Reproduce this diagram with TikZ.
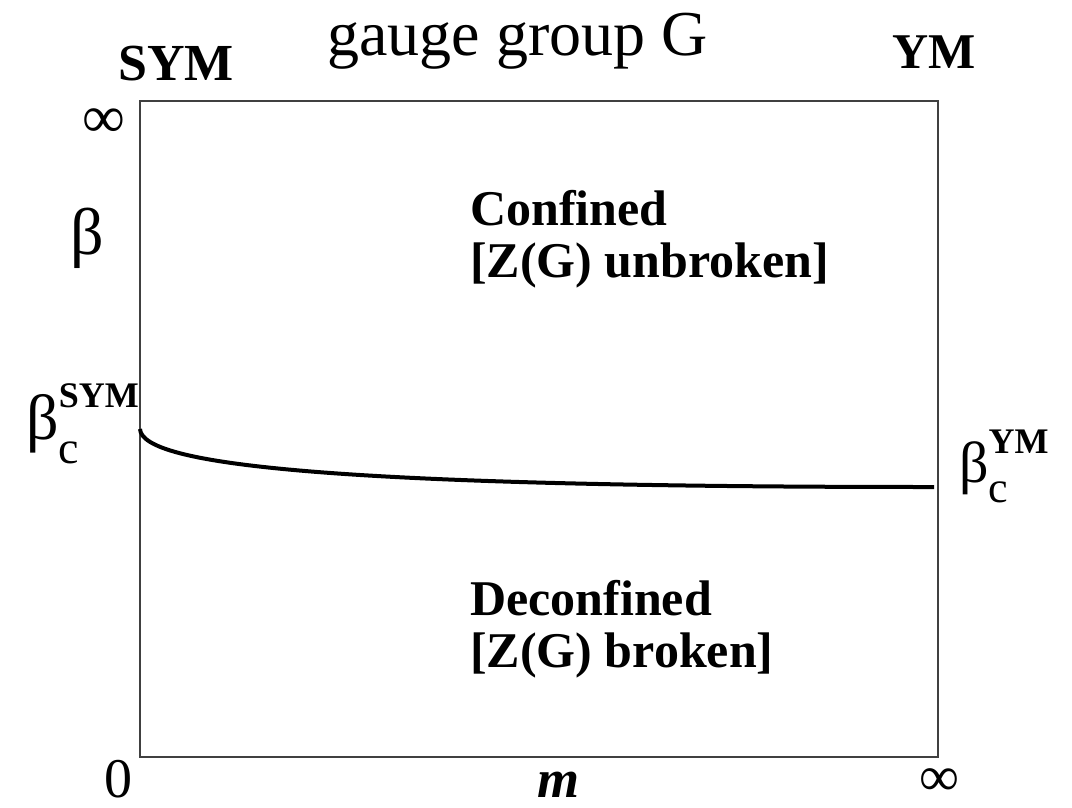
\documentclass[tikz,border=0pt]{standalone}
\usepackage{fontspec}
\setmainfont{Liberation Serif}
\begin{document}
\begin{tikzpicture}[x=1pt,y=-1pt,
  lbl/.style={inner sep=0pt, anchor=base west},
  bl/.style={lbl, font=\fontsize{50}{50}\selectfont\bfseries},
  rg/.style={lbl, font=\fontsize{#1}{#1}\selectfont},
  flat/.style={text depth=0pt},
]
\useasboundingbox (0,0) rectangle (1072,807);
\coordinate (tl) at (140,101);
\coordinate (br) at (938,757);
\draw[line width=2pt, draw=black!75] (tl) rectangle (br);
\coordinate (cs) at (140,429);
\coordinate (ce) at (934,487);
\draw[line width=4pt] (cs) .. controls (142,465) and (330,487) .. (ce);

\node[bl, font=\fontsize{52}{52}\selectfont\bfseries] (sym) at (118,80) {SYM};
\node[rg=64] (title) at (327,55) {gauge group G};
\node[bl] (ym) at (892,68) {YM};
\node[rg=60] (inftop) at (82,137) {∞};
\node[rg=66] (beta) at (70,254) {β};
\node[lbl] (bcs) at (26,439) {\fontsize{64}{64}\selectfont β\rlap{\raisebox{32pt}{\fontsize{36}{36}\selectfont\bfseries SYM}}\raisebox{-24pt}{\fontsize{46}{46}\selectfont c}};
\node[lbl] (bcy) at (959,482) {\fontsize{58}{58}\selectfont β\rlap{\raisebox{29pt}{\fontsize{36}{36}\selectfont\bfseries YM}}\raisebox{-20pt}{\fontsize{44}{44}\selectfont c}};
\node[bl] (conf) at (470,225) {Confined};
\node[bl] (unb) at (470,277) {[Z(G) unbroken]};
\node[bl] (dec) at (470,615) {Deconfined};
\node[bl] (brk) at (470,667) {[Z(G) broken]};
\node[rg=56, flat] (zero) at (104,797) {0};
\node[lbl, flat, font=\fontsize{54}{54}\selectfont\bfseries\itshape] (m) at (537,797) {m};
\node[rg=56, flat] (infbot) at (919,795) {∞};
\end{tikzpicture}
\end{document}
